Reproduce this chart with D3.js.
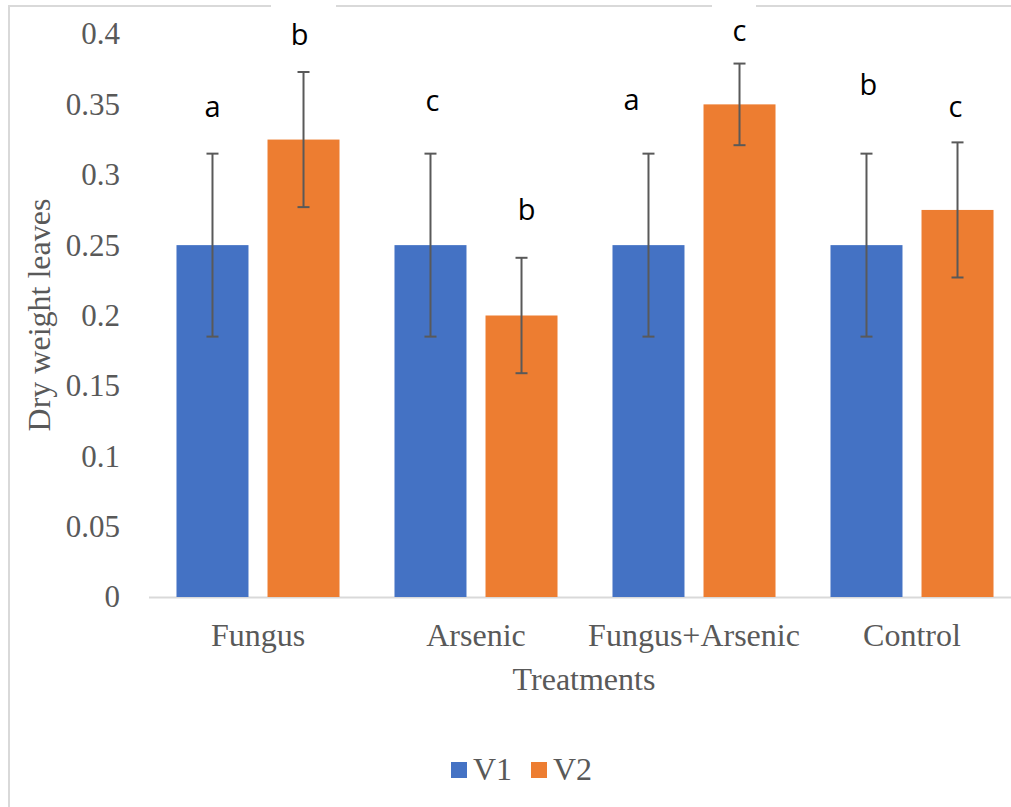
<!DOCTYPE html>
<html>
<head>
<meta charset="utf-8">
<script src="https://cdn.jsdelivr.net/npm/d3@7"></script>
<style>
  body { margin: 0; background: #fff; }
  svg { display: block; }
</style>
</head>
<body>
<div id="chart"></div>
<script>
// data
var categories = ['Fungus', 'Arsenic', 'Fungus+Arsenic', 'Control'];
var seriesNames = ['V1', 'V2'];
var v1Values = [0.25, 0.25, 0.25, 0.25];
var v2Values = [0.325, 0.2, 0.35, 0.275];
var v1Errors = [0.065, 0.065, 0.065, 0.065];
var v2Errors = [0.048, 0.041, 0.029, 0.048];
var v1Letters = ['a', 'c', 'a', 'b'];
var v2Letters = ['b', 'b', 'c', 'c'];
// letter label heights (data units, baseline)
var v1LetterY = [0.341, 0.345, 0.346, 0.357];
var v2LetterY = [0.392, 0.268, 0.395, 0.341];
var yTicks = [0, 0.05, 0.1, 0.15, 0.2, 0.25, 0.3, 0.35, 0.4];

var width = 1011, height = 807;
var colors = {V1: '#4472C4', V2: '#ED7D31'};
var grey = '#595959';

// small manual nudges of the letter labels, as placed in the original
var v1Nudge = [0, 2, -17, 2];
var v2Nudge = [-4, 5, 0, -2];

var rows = categories.map(function (c, i) {
    return {
        cat: c,
        bars: [
            {key: 'V1', value: v1Values[i], err: v1Errors[i], letter: v1Letters[i], ly: v1LetterY[i], dx: v1Nudge[i]},
            {key: 'V2', value: v2Values[i], err: v2Errors[i], letter: v2Letters[i], ly: v2LetterY[i], dx: v2Nudge[i]}
        ]
    };
});

var svg = d3.select('#chart').append('svg')
    .attr('width', width)
    .attr('height', height);

// chart frame (light grey), top edge broken where label boxes sit
var frame = svg.append('g')
    .attr('stroke', '#d9d9d9')
    .attr('stroke-width', 2)
    .attr('fill', 'none');
frame.append('path').attr('d', 'M9,807V6H271');
frame.append('path').attr('d', 'M336,6H712');
frame.append('path').attr('d', 'M756,6H1011');

var x = d3.scaleBand()
    .domain(categories)
    .range([149, 1021])
    .paddingInner(0)
    .paddingOuter(0);

var xInner = d3.scaleBand()
    .domain(seriesNames)
    .range([0, x.bandwidth()])
    .paddingInner(0.209)
    .paddingOuter(0.302);

var y = d3.scaleLinear()
    .domain([0, 0.4])
    .range([597, 34]);

// y axis labels
var yAxis = svg.append('g')
    .attr('transform', 'translate(127,0)')
    .call(d3.axisLeft(y).tickValues(yTicks).tickSize(0).tickPadding(7)
        .tickFormat(function (d) { return d3.format('')(+d.toFixed(2)); }));
yAxis.select('.domain').remove();
yAxis.selectAll('text')
    .attr('fill', grey)
    .style('font-family', '"Liberation Serif", "Times New Roman", serif')
    .style('font-size', '31px');

// baseline
svg.append('line')
    .attr('x1', 149).attr('x2', width)
    .attr('y1', y(0) + 0.5).attr('y2', y(0) + 0.5)
    .attr('stroke', '#d9d9d9')
    .attr('stroke-width', 2);

// bars
var groups = svg.selectAll('.group')
    .data(rows)
    .enter()
    .append('g')
    .attr('class', 'group')
    .attr('transform', function (d) { return 'translate(' + x(d.cat) + ',0)'; });

var bar = groups.selectAll('.bar')
    .data(function (d) { return d.bars; })
    .enter()
    .append('g')
    .attr('class', 'bar');

bar.append('rect')
    .attr('x', function (d) { return xInner(d.key); })
    .attr('width', xInner.bandwidth())
    .attr('y', function (d) { return y(d.value); })
    .attr('height', function (d) { return y(0) - y(d.value); })
    .attr('fill', function (d) { return colors[d.key]; });

// error bars
var cap = 6;
var eb = bar.append('g')
    .attr('stroke', grey)
    .attr('stroke-width', 2);
eb.append('line')
    .attr('x1', function (d) { return xInner(d.key) + xInner.bandwidth() / 2; })
    .attr('x2', function (d) { return xInner(d.key) + xInner.bandwidth() / 2; })
    .attr('y1', function (d) { return y(d.value + d.err); })
    .attr('y2', function (d) { return y(d.value - d.err); });
[1, -1].forEach(function (s) {
    eb.append('line')
        .attr('x1', function (d) { return xInner(d.key) + xInner.bandwidth() / 2 - cap; })
        .attr('x2', function (d) { return xInner(d.key) + xInner.bandwidth() / 2 + cap; })
        .attr('y1', function (d) { return y(d.value + s * d.err); })
        .attr('y2', function (d) { return y(d.value + s * d.err); });
});

// significance letters
bar.append('text')
    .attr('x', function (d) { return xInner(d.key) + xInner.bandwidth() / 2 + d.dx; })
    .attr('y', function (d) { return y(d.ly); })
    .attr('text-anchor', 'middle')
    .attr('fill', '#000')
    .style('font-family', '"Open Sans", "Noto Sans", sans-serif')
    .style('font-size', '29px')
    .text(function (d) { return d.letter; });

// x axis labels
var xAxis = svg.append('g')
    .attr('transform', 'translate(0,' + y(0) + ')')
    .call(d3.axisBottom(x).tickSize(0).tickPadding(26));
xAxis.select('.domain').remove();
xAxis.selectAll('text')
    .attr('fill', grey)
    .style('font-family', '"Liberation Serif", "Times New Roman", serif')
    .style('font-size', '32px');

// axis titles
svg.append('text')
    .attr('x', 584).attr('y', 690)
    .attr('text-anchor', 'middle')
    .attr('fill', grey)
    .style('font-family', '"Liberation Serif", "Times New Roman", serif')
    .style('font-size', '32px')
    .text('Treatments');

svg.append('text')
    .attr('transform', 'translate(50,315) rotate(-90)')
    .attr('text-anchor', 'middle')
    .attr('fill', grey)
    .style('font-family', '"Liberation Serif", "Times New Roman", serif')
    .style('font-size', '32px')
    .text('Dry weight leaves');

// legend
var legendX = [451, 531];
var legend = svg.selectAll('.legend')
    .data(seriesNames)
    .enter()
    .append('g')
    .attr('class', 'legend')
    .attr('transform', function (d, i) { return 'translate(' + legendX[i] + ',762)'; });
legend.append('rect')
    .attr('width', 16).attr('height', 16)
    .attr('fill', function (d) { return colors[d]; });
legend.append('text')
    .attr('x', 22).attr('y', 18)
    .attr('fill', grey)
    .style('font-family', '"Liberation Serif", "Times New Roman", serif')
    .style('font-size', '32px')
    .text(function (d) { return d; });
</script>
</body>
</html>
